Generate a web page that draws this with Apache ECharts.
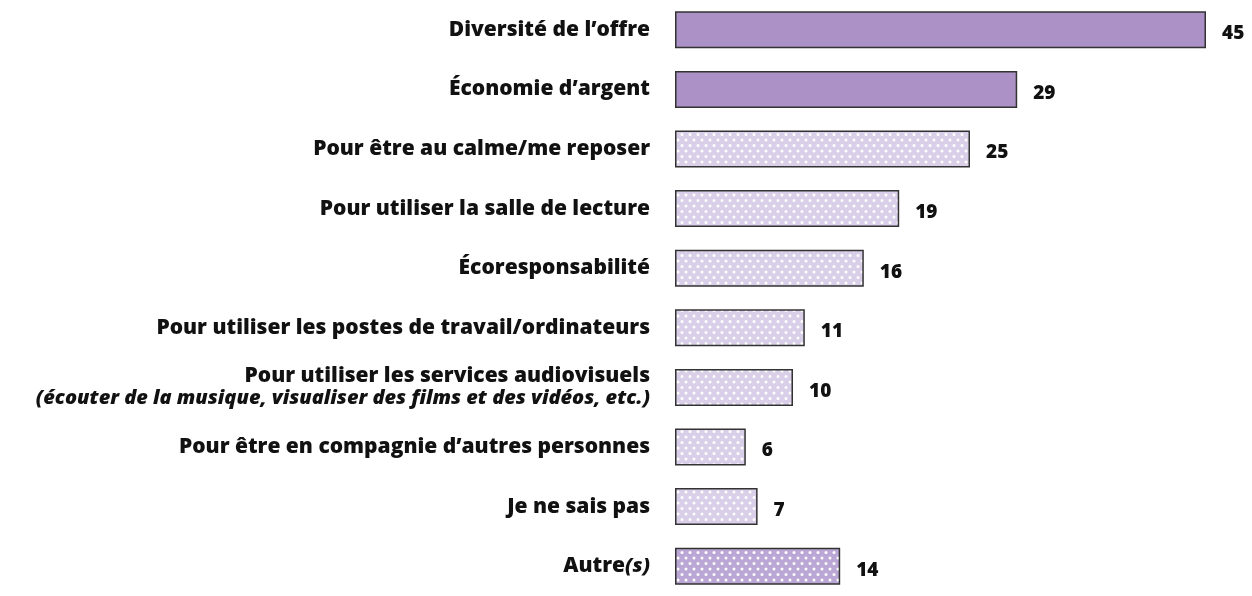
<!DOCTYPE html>
<html><head><meta charset="utf-8">
<script src="https://cdn.jsdelivr.net/npm/echarts@6/dist/echarts.min.js"></script>
<style>html,body{margin:0;padding:0;background:#fff}#c{width:1252px;height:596px}</style>
</head><body><div id="c"></div>
<script>
var categories = [
  "Diversité de l’offre",
  "Économie d’argent",
  "Pour être au calme/me reposer",
  "Pour utiliser la salle de lecture",
  "Écoresponsabilité",
  "Pour utiliser les postes de travail/ordinateurs",
  "Pour utiliser les services audiovisuels\n(écouter de la musique, visualiser des films et des vidéos, etc.)",
  "Pour être en compagnie d’autres personnes",
  "Je ne sais pas",
  "Autre(s)"
];
var values = [45, 29, 25, 19, 16, 11, 10, 6, 7, 14];

function dots(bg) {
  var c = document.createElement('canvas');
  c.width = 8; c.height = 11;
  var g = c.getContext('2d');
  g.fillStyle = bg; g.fillRect(0, 0, 8, 11);
  g.fillStyle = '#ffffff';
  [[2, 2.5], [6, 8]].forEach(function (p) {
    g.beginPath(); g.arc(p[0], p[1], 1.5, 0, Math.PI * 2); g.fill();
  });
  return c;
}
var solid = '#ab91c5';
var lightDots = { image: dots('#d9cfe8'), repeat: 'repeat' };
var darkDots = { image: dots('#bba7d5'), repeat: 'repeat' };

var seriesData = values.map(function (v, i) {
  var fill = i < 2 ? solid : (i === values.length - 1 ? darkDots : lightDots);
  return { value: v, itemStyle: { color: fill } };
});

var FONT = '"Open Sans"';
var chart = echarts.init(document.getElementById('c'), null, { renderer: 'canvas' });
chart.setOption({
  animation: false,
  grid: { left: 675, width: 531, top: -0.4, height: 607, containLabel: false },
  xAxis: { type: 'value', min: 0, max: 45, show: false },
  yAxis: {
    type: 'category', data: categories, inverse: true,
    axisLine: { show: false }, axisTick: { show: false },
    axisLabel: {
      margin: 25, align: 'right', color: '#111',
      fontFamily: FONT, fontWeight: 800, fontSize: 21,
      formatter: function (v) {
        if (v.indexOf('\n') >= 0) {
          var p = v.split('\n');
          return '{b|' + p[0] + '}\n{i|' + p[1] + '}';
        }
        if (v === 'Autre(s)') return '{b|Autre}{i|(s)}';
        return '{b|' + v + '}';
      },
      rich: {
        b: { fontFamily: FONT, fontWeight: 800, fontSize: 21, color: '#111', lineHeight: 22 },
        i: { fontFamily: FONT, fontWeight: 800, fontStyle: 'italic', fontSize: 20, color: '#111', lineHeight: 22 }
      }
    }
  },
  series: [{
    type: 'bar', data: seriesData, barWidth: 37,
    itemStyle: { borderColor: '#333333', borderWidth: 1.5 },
    label: {
      show: true, position: 'right', distance: 16, offset: [0, 4],
      color: '#111', fontFamily: FONT, fontWeight: 800, fontSize: 19
    }
  }]
});
</script></body></html>
